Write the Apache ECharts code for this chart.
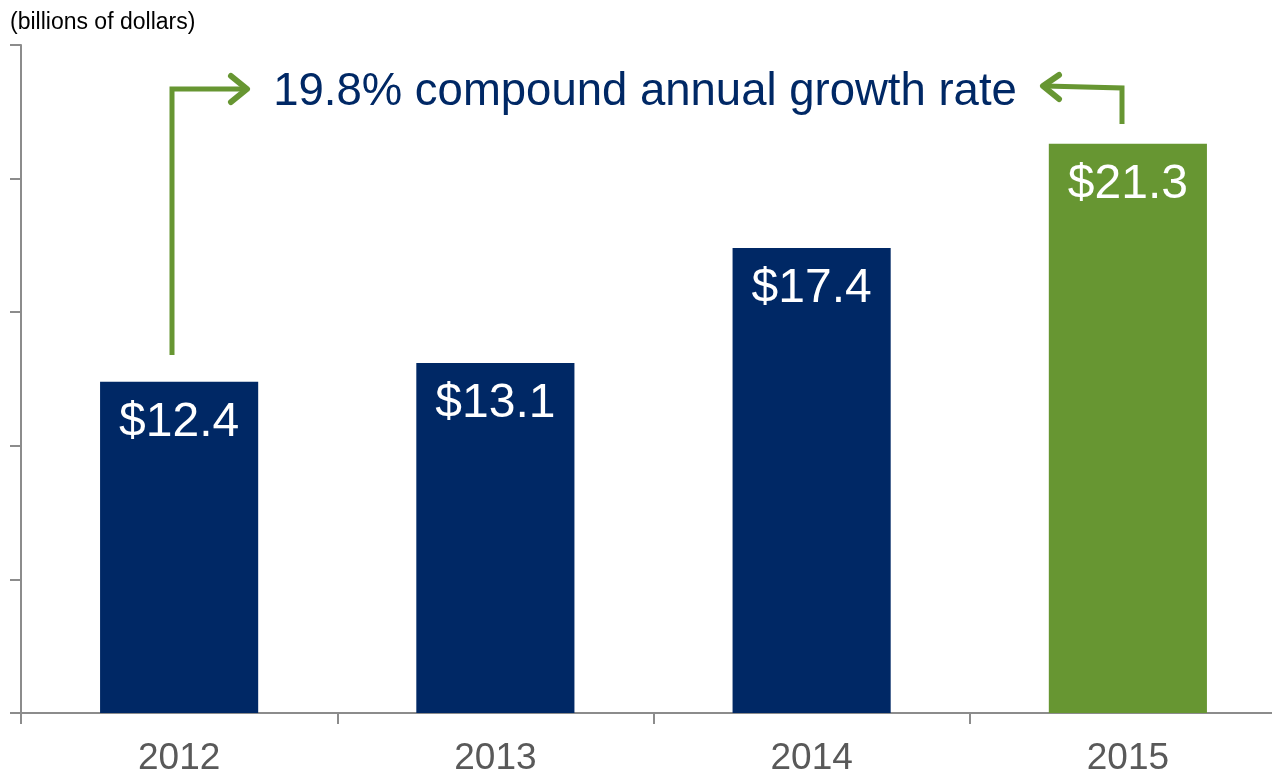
<!DOCTYPE html>
<html>
<head>
<meta charset="utf-8">
<script src="https://cdn.jsdelivr.net/npm/echarts@6/dist/echarts.min.js"></script>
<style>
  html, body { margin: 0; padding: 0; background: #fff; }
  #chart { width: 1272px; height: 773px; }
</style>
</head>
<body>
<div id="chart"></div>
<script>
  // chart data
  var years = ['2012', '2013', '2014', '2015'];
  var revenue = [12.4, 13.1, 17.4, 21.3];
  var barColors = ['#002865', '#002865', '#002865', '#679632'];
  var unitNote = '(billions of dollars)';
  var growthNote = '19.8% compound annual growth rate';

  var green = '#679632';
  var chart = echarts.init(document.getElementById('chart'));

  var option = {
    animation: false,
    grid: { left: 21, top: 45, width: 1265, bottom: 60, outerBoundsMode: 'none', containLabel: false },
    xAxis: {
      type: 'category',
      data: years,
      axisLine: { lineStyle: { color: '#8c8c8c', width: 2 } },
      axisTick: { show: true, length: 11, lineStyle: { color: '#8c8c8c', width: 2 } },
      axisLabel: { color: '#595959', fontSize: 37, fontFamily: 'Liberation Sans', margin: 27 }
    },
    yAxis: {
      type: 'value',
      min: 0,
      max: 25,
      interval: 5,
      axisLine: { show: true, lineStyle: { color: '#8c8c8c', width: 2 } },
      axisTick: { show: true, length: 11, lineStyle: { color: '#8c8c8c', width: 2 } },
      axisLabel: { show: false },
      splitLine: { show: false }
    },
    series: [{
      type: 'bar',
      barWidth: '50%',
      data: revenue.map(function (v, i) {
        return { value: v, itemStyle: { color: barColors[i] } };
      }),
      label: {
        show: true,
        position: 'insideTop',
        distance: 17,
        color: '#fff',
        fontSize: 48,
        fontFamily: 'Liberation Sans',
        formatter: function (p) { return '$' + p.value.toFixed(1); }
      }
    }],
    graphic: [
      {
        type: 'text', left: 10, top: 11,
        style: { text: unitNote, fill: '#000', font: '23px "Liberation Sans"' }
      },
      {
        type: 'text', x: 645, y: 92,
        style: { text: growthNote, fill: '#002865', font: '45.5px "Liberation Sans"', textAlign: 'center', textVerticalAlign: 'middle' }
      },
      // left bracket arrow
      {
        type: 'polyline',
        shape: { points: [[172, 355], [172, 89], [245, 89]] },
        style: { stroke: green, lineWidth: 5, fill: null }
      },
      {
        type: 'polyline',
        shape: { points: [[231, 76], [247, 89], [231, 102]] },
        style: { stroke: green, lineWidth: 6, fill: null, lineCap: 'round', lineJoin: 'round' }
      },
      // right bracket arrow
      {
        type: 'polyline',
        shape: { points: [[1122, 124], [1122, 88], [1045, 86]] },
        style: { stroke: green, lineWidth: 5, fill: null }
      },
      {
        type: 'polyline',
        shape: { points: [[1059, 75], [1043, 86], [1059, 99]] },
        style: { stroke: green, lineWidth: 6, fill: null, lineCap: 'round', lineJoin: 'round' }
      }
    ]
  };

  chart.setOption(option);
</script>
</body>
</html>
